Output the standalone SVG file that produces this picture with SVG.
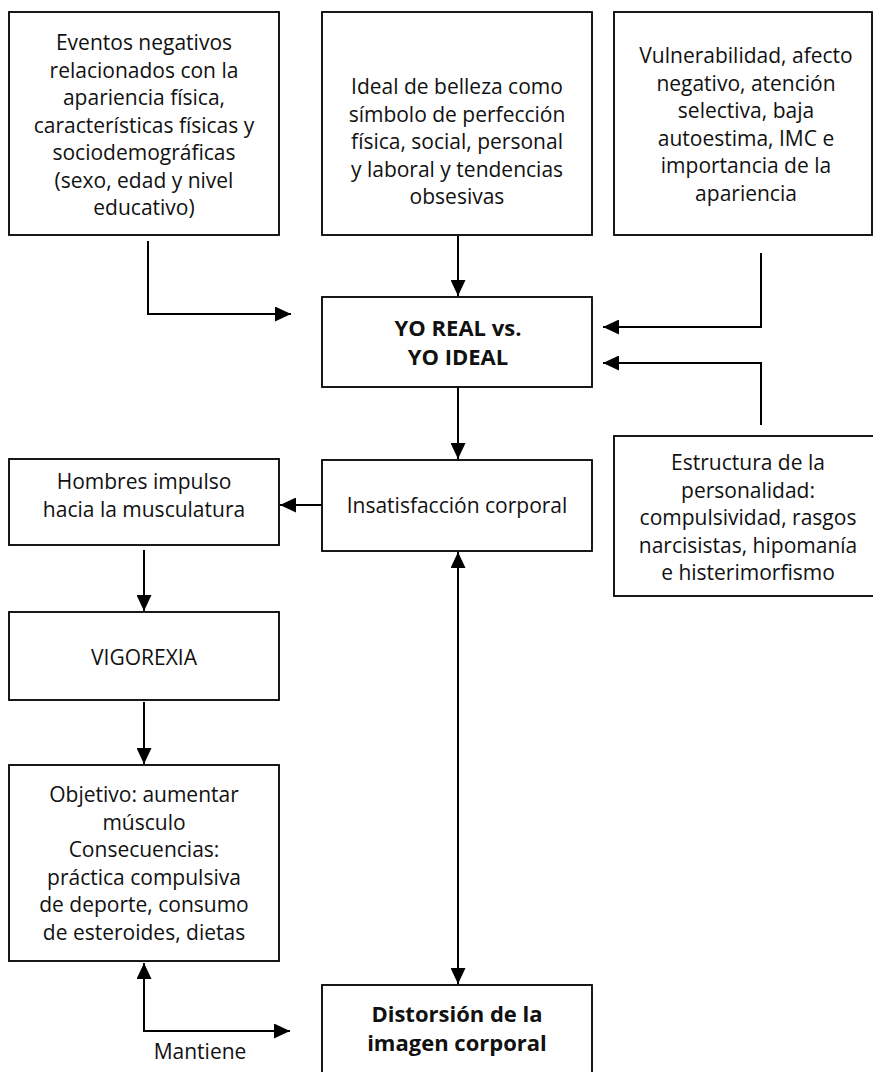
<svg xmlns="http://www.w3.org/2000/svg" width="873" height="1072" viewBox="0 0 873 1072">
<style>
.box{fill:#fff;stroke:#000;stroke-width:1.8}
.t{font-family:"Open Sans","Noto Sans",sans-serif;font-size:21px;fill:#111;text-anchor:middle}
.b{font-weight:bold;font-size:22px}
.c{fill:none;stroke:#000;stroke-width:2}
</style>
<defs>
<marker id="ah" markerUnits="userSpaceOnUse" markerWidth="17" markerHeight="15" refX="16" refY="7.5" orient="auto-start-reverse">
<path d="M0,0 L16,7.5 L0,15 Z" fill="#000"/>
</marker>
</defs>
<rect width="873" height="1072" fill="#fff"/>
<g id="connectors">
<path class="c" d="M148,241 V314 H291" marker-end="url(#ah)"/>
<path class="c" d="M458,236 V296" marker-end="url(#ah)"/>
<path class="c" d="M761,253 V327 H603" marker-end="url(#ah)"/>
<path class="c" d="M761,425 V363 H603" marker-end="url(#ah)"/>
<path class="c" d="M458,387 V459" marker-end="url(#ah)"/>
<path class="c" d="M322,505 H280" marker-end="url(#ah)"/>
<path class="c" d="M144,550 V611" marker-end="url(#ah)"/>
<path class="c" d="M144,702 V764" marker-end="url(#ah)"/>
<path class="c" d="M458,552 V984" marker-start="url(#ah)" marker-end="url(#ah)"/>
<path class="c" d="M144,963 V1031 H290" marker-start="url(#ah)" marker-end="url(#ah)"/>
<text class="t" x="200" y="1059">Mantiene</text>
</g>
<g id="n1">
<rect class="box" x="9" y="12" width="270" height="223"/>
<text class="t" x="144" y="50">Eventos negativos</text>
<text class="t" x="144" y="77.5">relacionados con la</text>
<text class="t" x="144" y="105">apariencia física,</text>
<text class="t" x="144" y="132.5">características físicas y</text>
<text class="t" x="144" y="160">sociodemográficas</text>
<text class="t" x="144" y="187.5">(sexo, edad y nivel</text>
<text class="t" x="144" y="215">educativo)</text>
</g>
<g id="n2">
<rect class="box" x="322" y="12" width="270" height="223"/>
<text class="t" x="457" y="94">Ideal de belleza como</text>
<text class="t" x="457" y="121.5">símbolo de perfección</text>
<text class="t" x="457" y="149">física, social, personal</text>
<text class="t" x="457" y="176.5">y laboral y tendencias</text>
<text class="t" x="457" y="204">obsesivas</text>
</g>
<g id="n3">
<rect class="box" x="614" y="12" width="258" height="223"/>
<text class="t" x="746" y="63">Vulnerabilidad, afecto</text>
<text class="t" x="746" y="90.5">negativo, atención</text>
<text class="t" x="746" y="118">selectiva, baja</text>
<text class="t" x="746" y="145.5">autoestima, IMC e</text>
<text class="t" x="746" y="173">importancia de la</text>
<text class="t" x="746" y="200.5">apariencia</text>
</g>
<g id="n4">
<rect class="box" x="322" y="297" width="270" height="90"/>
<text class="t b" x="458" y="336">YO REAL vs.</text>
<text class="t b" x="458" y="365">YO IDEAL</text>
</g>
<g id="n5">
<rect class="box" x="614" y="436" width="270" height="160"/>
<text class="t" x="748" y="470">Estructura de la</text>
<text class="t" x="748" y="497.5">personalidad:</text>
<text class="t" x="748" y="525">compulsividad, rasgos</text>
<text class="t" x="748" y="552.5">narcisistas, hipomanía</text>
<text class="t" x="748" y="580">e histerimorfismo</text>
</g>
<g id="n6">
<rect class="box" x="322" y="460" width="270" height="91"/>
<text class="t" x="457" y="513">Insatisfacción corporal</text>
</g>
<g id="n7">
<rect class="box" x="9" y="459" width="270" height="86"/>
<text class="t" x="144" y="489">Hombres impulso</text>
<text class="t" x="144" y="517">hacia la musculatura</text>
</g>
<g id="n8">
<rect class="box" x="9" y="612" width="270" height="88"/>
<text class="t" x="144" y="665">VIGOREXIA</text>
</g>
<g id="n9">
<rect class="box" x="9" y="765" width="270" height="196"/>
<text class="t" x="144" y="802">Objetivo: aumentar</text>
<text class="t" x="144" y="829.5">músculo</text>
<text class="t" x="144" y="857">Consecuencias:</text>
<text class="t" x="144" y="884.5">práctica compulsiva</text>
<text class="t" x="144" y="912">de deporte, consumo</text>
<text class="t" x="144" y="939.5">de esteroides, dietas</text>
</g>
<g id="n10">
<rect class="box" x="322" y="985" width="270" height="100"/>
<text class="t b" x="457" y="1022">Distorsión de la</text>
<text class="t b" x="457" y="1051">imagen corporal</text>
</g>
</svg>
